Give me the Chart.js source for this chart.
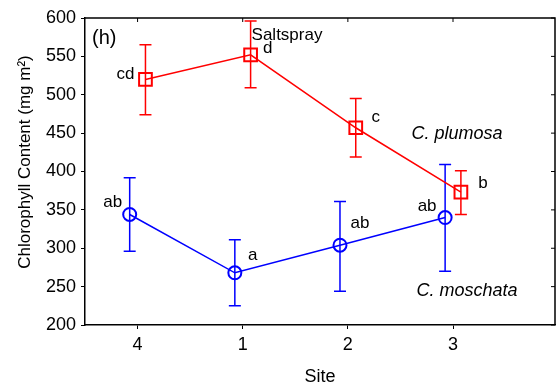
<!DOCTYPE html>
<html>
<head>
<meta charset="utf-8">
<script src="https://cdn.jsdelivr.net/npm/chart.js@4/dist/chart.umd.min.js"></script>
<style>
  html, body { margin: 0; padding: 0; background: #fff; }
  #wrap { width: 558px; height: 388px; }
</style>
</head>
<body>
<div id="wrap"><canvas id="myChart" width="558" height="388"></canvas></div>
<script>
// sites in plotted order
const sites = ["4", "1", "2", "3"];
const yTicks = [200, 250, 300, 350, 400, 450, 500, 550, 600];

// C. plumosa (red squares)
const plumosaMean = [520, 552, 457, 373];
const plumosaHigh = [565, 596, 495, 401];
const plumosaLow = [474, 509, 419, 344];
const plumosaLetters = ["cd", "d", "c", "b"];

// C. moschata (blue circles)
const moschataMean = [344, 268, 304, 340];
const moschataHigh = [392, 311, 361, 409];
const moschataLow = [296, 225, 244, 270];
const moschataLetters = ["ab", "a", "ab", "ab"];

const RED = "rgb(255,0,0)";
const BLUE = "rgb(0,0,255)";
const FONT = "'Liberation Sans', Arial, sans-serif";

// label offsets (px) relative to each point
const plumosaLetterOff = [[-20, -5], [17, -7], [20, -10], [22, -9]];
const moschataLetterOff = [[-17, -12], [18, -17], [20, -22], [-18, -11]];

function pts(means, shift) {
  return means.map((v, i) => ({ x: i + 1 + shift, y: v }));
}

const errorBars = {
  id: "errorBars",
  beforeDatasetsDraw(chart) {
    const { ctx, scales } = chart;
    const sets = [
      { hi: plumosaHigh, lo: plumosaLow, color: RED, shift: 0.075 },
      { hi: moschataHigh, lo: moschataLow, color: BLUE, shift: -0.075 },
    ];
    ctx.save();
    ctx.lineWidth = 1.5;
    sets.forEach((s) => {
      ctx.strokeStyle = s.color;
      s.hi.forEach((h, i) => {
        const x = scales.x.getPixelForValue(i + 1 + s.shift);
        const yh = scales.y.getPixelForValue(h);
        const yl = scales.y.getPixelForValue(s.lo[i]);
        ctx.beginPath();
        ctx.moveTo(x, yh); ctx.lineTo(x, yl);
        ctx.moveTo(x - 6, yh); ctx.lineTo(x + 6, yh);
        ctx.moveTo(x - 6, yl); ctx.lineTo(x + 6, yl);
        ctx.stroke();
      });
    });
    ctx.restore();
  },
  afterDraw(chart) {
    const { ctx, scales, chartArea } = chart;
    const a = chartArea;
    ctx.save();
    // frame top and right, inward ticks
    ctx.strokeStyle = "#000";
    ctx.lineWidth = 1.5;
    ctx.beginPath();
    ctx.moveTo(a.left, a.top); ctx.lineTo(a.right, a.top); ctx.lineTo(a.right, a.bottom);
    ctx.stroke();
    ctx.lineWidth = 1;
    ctx.beginPath();
    [1, 2, 3, 4].forEach((v) => {
      const x = scales.x.getPixelForValue(v);
      ctx.moveTo(x, a.top); ctx.lineTo(x, a.top + 4);
    });
    yTicks.forEach((v) => {
      const y = scales.y.getPixelForValue(v);
      ctx.moveTo(a.right, y); ctx.lineTo(a.right - 4, y);
    });
    ctx.stroke();

    // significance letters
    ctx.font = "17px " + FONT;
    ctx.fillStyle = "#000";
    ctx.textAlign = "center";
    ctx.textBaseline = "middle";
    plumosaLetters.forEach((t, i) => {
      const x = scales.x.getPixelForValue(i + 1.075);
      const y = scales.y.getPixelForValue(plumosaMean[i]);
      ctx.fillText(t, x + plumosaLetterOff[i][0], y + plumosaLetterOff[i][1]);
    });
    moschataLetters.forEach((t, i) => {
      const x = scales.x.getPixelForValue(i + 0.925);
      const y = scales.y.getPixelForValue(moschataMean[i]);
      ctx.fillText(t, x + moschataLetterOff[i][0], y + moschataLetterOff[i][1]);
    });

    ctx.fillText("Saltspray", 287, 35);
    ctx.font = "20px " + FONT;
    ctx.textAlign = "left";
    ctx.fillText("(h)", 92, 38);
    ctx.font = "italic 18px " + FONT;
    ctx.textAlign = "center";
    ctx.fillText("C. plumosa", 457, 134);
    ctx.fillText("C. moschata", 467, 291);

    // y axis title
    ctx.font = "17px " + FONT;
    ctx.translate(25, 162);
    ctx.rotate(-Math.PI / 2);
    ctx.fillText("Chlorophyll Content (mg m²)", 0, 0);
    ctx.restore();
  },
};

const ctx = document.getElementById("myChart").getContext("2d");
const myChart = new Chart(ctx, {
  type: "line",
  data: {
    datasets: [
      {
        label: "C. plumosa",
        data: pts(plumosaMean, 0.075),
        borderColor: RED,
        borderWidth: 1.5,
        pointStyle: "rect",
        pointRadius: 9,
        pointBorderWidth: 2,
        pointBorderColor: RED,
        pointBackgroundColor: "rgba(0,0,0,0)",
      },
      {
        label: "C. moschata",
        data: pts(moschataMean, -0.075),
        borderColor: BLUE,
        borderWidth: 1.5,
        pointStyle: "circle",
        pointRadius: 6.5,
        pointBorderWidth: 2,
        pointBorderColor: BLUE,
        pointBackgroundColor: "rgba(0,0,0,0)",
      },
    ],
  },
  options: {
    responsive: false,
    animation: false,
    layout: { autoPadding: false, padding: { top: 18, right: 3, left: 0, bottom: 0 } },
    plugins: { legend: { display: false }, tooltip: { enabled: false } },
    scales: {
      x: {
        type: "linear",
        min: 0.5,
        max: 4.97,
        afterBuildTicks: (s) => { s.ticks = [1, 2, 3, 4].map((v) => ({ value: v })); },
        afterFit: (s) => { s.height = 63; s.paddingLeft = 0; s.paddingRight = 0; },
        ticks: {
          callback: (v) => sites[v - 1],
          color: "#000",
          font: { size: 18, family: FONT },
          padding: 5,
          maxRotation: 0,
        },
        grid: { drawOnChartArea: false, tickLength: 4, color: "#000" },
        border: { color: "#000", width: 1.5 },
        title: {
          display: true,
          text: "Site",
          color: "#000",
          font: { size: 18, family: FONT },
          padding: { top: 0, bottom: 0 },
        },
      },
      y: {
        min: 200,
        max: 600,
        afterBuildTicks: (s) => { s.ticks = yTicks.map((v) => ({ value: v })); },
        afterFit: (s) => { s.width = 85; },
        ticks: { color: "#000", font: { size: 18, family: FONT }, padding: 5 },
        grid: { drawOnChartArea: false, tickLength: 4, color: "#000" },
        border: { color: "#000", width: 1.5 },
      },
    },
  },
  plugins: [errorBars],
});
</script>
</body>
</html>
